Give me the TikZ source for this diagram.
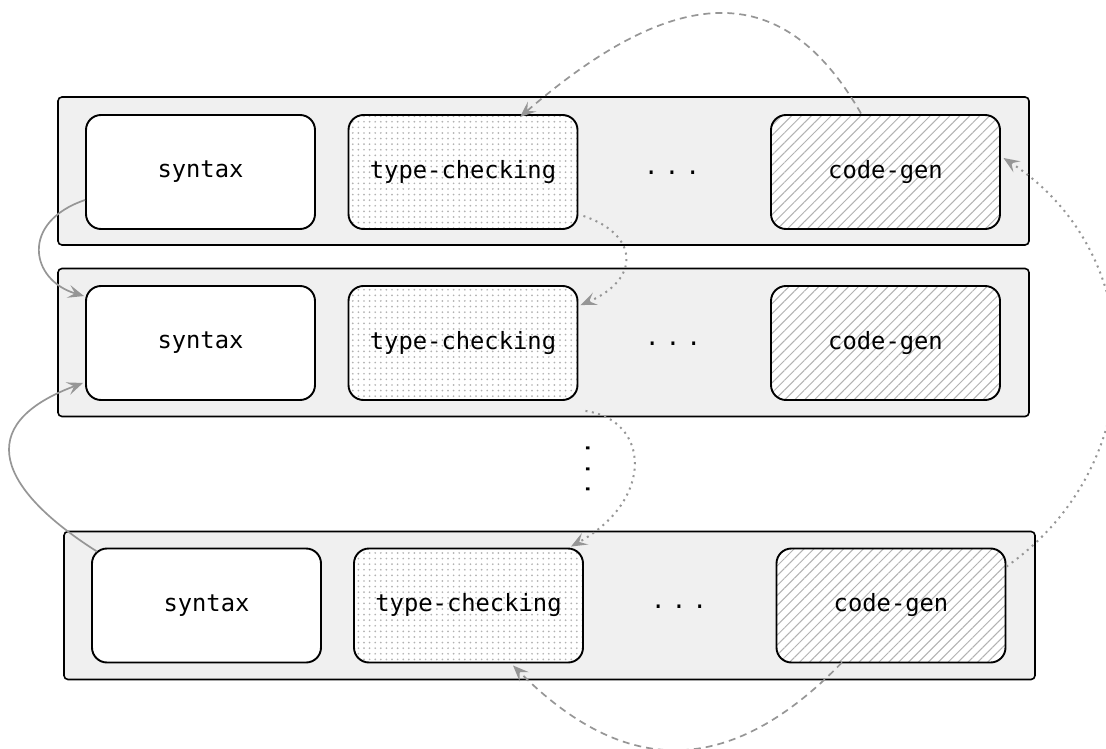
\documentclass[tikz,border=0pt]{standalone}
\usepackage{fontspec}
\setmonofont{DejaVu Sans Mono}
\usetikzlibrary{arrows.meta,patterns.meta}
\definecolor{linkgray}{RGB}{150,150,150}
\definecolor{panelgray}{RGB}{240,240,240}
\begin{document}
\begin{tikzpicture}[x=1pt,y=-1pt,
  panel/.style={draw=black, line width=1.6pt, fill=panelgray, rounded corners=4pt,
    inner sep=0pt, minimum width=971pt, minimum height=148pt},
  stage/.style={draw=black, line width=1.9pt, rounded corners=15pt, inner sep=0pt,
    minimum width=229pt, minimum height=114pt, fill=white,
    font=\ttfamily\fontsize{23.8}{28}\selectfont},
  checkbox/.style={stage, preaction={fill=white},
    pattern={Dots[radius=0.95pt,distance=5.6pt]}, pattern color=gray!60},
  genbox/.style={stage, preaction={fill=white},
    pattern={Lines[angle=45,distance=7pt,line width=1pt]}, pattern color=gray!60},
  ellipsis/.style={font=\ttfamily\fontsize{23.8}{28}\selectfont, inner sep=0pt, anchor=base},
  link/.style={draw=linkgray, line width=1.7pt,
    -{Stealth[length=16pt,width=13pt,inset=6.5pt]}},
  solidlink/.style={link},
  dashlink/.style={link, dash pattern=on 7pt off 5pt},
  dotlink/.style={link, line width=2pt, dash pattern=on 2pt off 4.5pt}
]
\clip (0,0) rectangle (1106,749);

% three pipeline rows
\node[panel] (p1) at (543.5,171) {};
\node[panel] (p2) at (543.5,342.5) {};
\node[panel] (p3) at (549.5,605.5) {};

\node[stage]    (s1)  at (200.5,172) {syntax};
\node[checkbox] (tc1) at (463,172)   {type-checking};
\node[genbox]   (cg1) at (885.5,172) {code-gen};
\node[ellipsis] (d1)  at (672,174.5) {.\hspace{6.5pt}.\hspace{6.5pt}.};

\node[stage]    (s2)  at (200.5,343) {syntax};
\node[checkbox] (tc2) at (463,343)   {type-checking};
\node[genbox]   (cg2) at (885.5,343) {code-gen};
\node[ellipsis] (d2)  at (673,345.5) {.\hspace{6.5pt}.\hspace{6.5pt}.};

\node[stage]    (s3)  at (206.5,605.5) {syntax};
\node[checkbox] (tc3) at (468.5,605.5) {type-checking};
\node[genbox]   (cg3) at (891,605.5)   {code-gen};
\node[ellipsis] (d3)  at (679,608)     {.\hspace{6.5pt}.\hspace{6.5pt}.};

% vertical ellipsis between the second and last rows
\node[ellipsis, rotate=90] (vd) at (589.5,469) {.\hspace{6.5pt}.\hspace{6.5pt}.};

% syntax links
\draw[solidlink] ([yshift=-28pt]s1.west)
  .. controls (20,222) and (30,280) .. ([xshift=-1pt,yshift=-11pt]s2.north west);
\draw[solidlink] ([xshift=6pt,yshift=-4pt]s3.north west)
  .. controls (0,490) and (-30,425) .. ([xshift=-2pt,yshift=18pt]s2.south west);

% type-checking links
\draw[dotlink] ([xshift=5pt,yshift=14pt]tc1.south east)
  .. controls (640,235) and (640,280) .. ([xshift=2pt,yshift=-20pt]tc2.north east);
\draw[dotlink] ([xshift=7pt,yshift=-10pt]tc2.south east)
  .. controls (650,420) and (655,500) .. ([xshift=-13pt,yshift=1pt]tc3.north east);

% code-gen feedback links
\draw[dashlink] ([xshift=-24.5pt,yshift=1pt]cg1.north)
  .. controls (790,-10) and (690,-30) .. ([xshift=57pt,yshift=-3pt]tc1.north);
\draw[dashlink] ([xshift=-49pt,yshift=1pt]cg3.south)
  .. controls (730,778) and (625,778) .. ([xshift=44.5pt,yshift=-2pt]tc3.south);
\draw[dotlink] ([yshift=-19pt]cg3.north east)
  .. controls (1152,464) and (1152,255) .. ([xshift=3pt,yshift=14pt]cg1.east);
\end{tikzpicture}
\end{document}
